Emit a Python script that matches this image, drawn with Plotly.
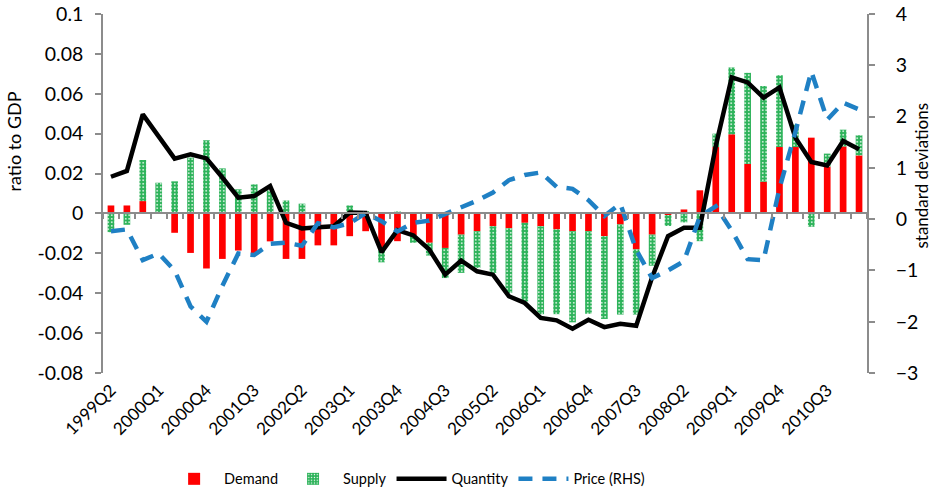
import plotly.graph_objects as go

categories = [
    "1999Q2", "1999Q3", "1999Q4",
    "2000Q1", "2000Q2", "2000Q3", "2000Q4",
    "2001Q1", "2001Q2", "2001Q3", "2001Q4",
    "2002Q1", "2002Q2", "2002Q3", "2002Q4",
    "2003Q1", "2003Q2", "2003Q3", "2003Q4",
    "2004Q1", "2004Q2", "2004Q3", "2004Q4",
    "2005Q1", "2005Q2", "2005Q3", "2005Q4",
    "2006Q1", "2006Q2", "2006Q3", "2006Q4",
    "2007Q1", "2007Q2", "2007Q3", "2007Q4",
    "2008Q1", "2008Q2", "2008Q3", "2008Q4",
    "2009Q1", "2009Q2", "2009Q3", "2009Q4",
    "2010Q1", "2010Q2", "2010Q3", "2010Q4",
    "2011Q1",
]

tick_labels = ["1999Q2", "2000Q1", "2000Q4", "2001Q3", "2002Q2", "2003Q1",
               "2003Q4", "2004Q3", "2005Q2", "2006Q1", "2006Q4", "2007Q3",
               "2008Q2", "2009Q1", "2009Q4", "2010Q3"]

demand = [0.004, 0.004, 0.0062, 0.0, -0.0097, -0.0198, -0.0276, -0.0228,
          -0.0186, -0.0203, -0.014, -0.0228, -0.0228, -0.016, -0.016, -0.0114,
          -0.0089, -0.0181, -0.0139, -0.011, -0.0147, -0.0173, -0.0106, -0.0089,
          -0.0064, -0.0074, -0.0047, -0.0064, -0.008, -0.0089, -0.0089, -0.0114,
          -0.0055, -0.018, -0.0106, -0.0008, 0.002, 0.0116, 0.0333, 0.0397,
          0.0248, 0.0159, 0.0333, 0.0333, 0.038, 0.0235, 0.0336, 0.0291]

supply = [-0.0094, -0.0057, 0.0206, 0.0154, 0.0161, 0.028, 0.0367, 0.0226,
          0.0121, 0.0146, 0.0116, 0.0065, 0.0049, 0.0005, 0.0004, 0.004,
          0.0012, -0.0064, 0.001, -0.0037, -0.0064, -0.0151, -0.0192, -0.0184,
          -0.0234, -0.0325, -0.0394, -0.0441, -0.0425, -0.0457, -0.0414, -0.0415,
          -0.0452, -0.0327, -0.0156, -0.0055, -0.0045, -0.0139, 0.0067, 0.0335,
          0.0457, 0.048, 0.036, 0.0114, -0.0067, 0.0065, 0.0084, 0.0101]

quantity = [0.0184, 0.0213, 0.0497, 0.0385, 0.0275, 0.0296, 0.0276, 0.018,
            0.0079, 0.0087, 0.0137, -0.0047, -0.0075, -0.0069, -0.0064, 0.0005,
            0.0003, -0.0194, -0.0084, -0.011, -0.0181, -0.0307, -0.0236, -0.029,
            -0.0307, -0.0415, -0.0449, -0.0524, -0.0536, -0.0578, -0.0533, -0.057,
            -0.0553, -0.0563, -0.032, -0.0114, -0.0072, -0.0072, 0.0338, 0.0682,
            0.0657, 0.0581, 0.0632, 0.038, 0.0258, 0.0241, 0.0363, 0.0322]

price = [-0.235, -0.2, -0.8, -0.67, -1.0, -1.7, -2.0, -1.3,
         -0.67, -0.7, -0.48, -0.46, -0.52, -0.08, -0.16, -0.08,
         0.12, -0.04, -0.24, -0.07, -0.03, 0.1, 0.21, 0.36,
         0.52, 0.76, 0.86, 0.91, 0.63, 0.59, 0.37, 0.06,
         0.3, -0.6, -1.15, -1.0, -0.82, 0.05, 0.25, -0.22,
         -0.78, -0.8, 0.6, 1.7, 2.88, 1.94, 2.27, 2.14]

left_ticks = [0.1, 0.08, 0.06, 0.04, 0.02, 0, -0.02, -0.04, -0.06, -0.08]
left_tick_text = ["0.1", "0.08", "0.06", "0.04", "0.02", "0", "-0.02", "-0.04", "-0.06", "-0.08"]

FONT = "Lato, 'Open Sans', sans-serif"
GRAY = "#8C8C8C"

fig = go.Figure()

fig.add_trace(go.Bar(
    x=categories, y=demand, name="Demand",
    marker=dict(color="#FF0000", line=dict(width=0)),
))
fig.add_trace(go.Bar(
    x=categories, y=supply, name="Supply",
    marker=dict(color="#2DB35A", line=dict(width=0),
                pattern=dict(shape=".", fgcolor="#FFFFFF", bgcolor="#2DB35A",
                             size=3.5, solidity=0.18, fillmode="replace")),
))
fig.add_trace(go.Scatter(
    x=categories, y=quantity, name="Quantity", mode="lines",
    line=dict(color="#000000", width=4.5),
))
fig.add_trace(go.Scatter(
    x=categories, y=price, name="Price (RHS)", mode="lines", yaxis="y2",
    line=dict(color="#1F80C4", width=4.5, dash="14px,10px"),
))
# invisible helper trace for the category axis drawn through zero
fig.add_trace(go.Scatter(
    x=categories, y=[None] * len(categories), xaxis="x2", yaxis="y",
    showlegend=False, hoverinfo="skip", mode="lines",
))

zero_pos = (0 - (-0.08)) / (0.1 - (-0.08))

fig.update_layout(
    width=934, height=491,
    margin=dict(l=103, r=67, t=14, b=118, autoexpand=False),
    paper_bgcolor="white", plot_bgcolor="white",
    barmode="relative", bargap=0.58,
    font=dict(family=FONT, color="#000000"),
    showlegend=True,
    legend=dict(orientation="h", x=0.08, xanchor="left", y=-0.295, yanchor="middle",
                font=dict(size=14.5, family=FONT), traceorder="normal",
                itemwidth=50),
    xaxis=dict(
        type="category", categoryorder="array", categoryarray=categories,
        range=[-0.5, len(categories) - 0.5], automargin=False,
        tickmode="array", tickvals=tick_labels, ticktext=tick_labels,
        tickangle=-45, tickfont=dict(size=17, family=FONT), ticklabelstandoff=3,
        showline=False, ticks="", showgrid=False, zeroline=False,
    ),
    xaxis2=dict(
        type="category", categoryorder="array", categoryarray=categories,
        range=[-0.5, len(categories) - 0.5], automargin=False,
        overlaying="x", anchor="free", position=zero_pos,
        showline=True, linecolor=GRAY, linewidth=2,
        ticks="outside", tickson="boundaries", ticklen=5, tickwidth=1.5,
        tickcolor=GRAY, showticklabels=False, showgrid=False, zeroline=False,
    ),
    yaxis=dict(
        range=[-0.08, 0.1], tickmode="array", tickvals=left_ticks, ticktext=left_tick_text,
        automargin=False,
        showline=True, linecolor=GRAY, linewidth=1.5,
        ticks="outside", ticklen=6, tickwidth=1.5, tickcolor=GRAY,
        showgrid=False, zeroline=False,
        tickfont=dict(size=19.5, family=FONT), ticklabelstandoff=8,
    ),
    yaxis2=dict(
        range=[-3, 4], dtick=1, overlaying="y", side="right", automargin=False,
        showline=True, linecolor=GRAY, linewidth=1.5,
        ticks="outside", ticklen=6, tickwidth=1.5, tickcolor=GRAY,
        showgrid=False, zeroline=False,
        tickfont=dict(size=19.5, family=FONT), ticklabelstandoff=17,
    ),
    annotations=[
        dict(text="ratio to GDP", textangle=-90, showarrow=False,
             xref="paper", yref="paper", x=-0.1165, y=0.645,
             xanchor="center", yanchor="middle",
             font=dict(size=18, family=FONT, color="#000000")),
        dict(text="standard deviations", textangle=-90, showarrow=False,
             xref="paper", yref="paper", x=1.072, y=0.55,
             xanchor="center", yanchor="middle",
             font=dict(size=17, family=FONT, color="#000000")),
    ],
)

fig.write_html("out.html", config={"displayModeBar": False},
               post_script="document.body.style.margin='0px';")
